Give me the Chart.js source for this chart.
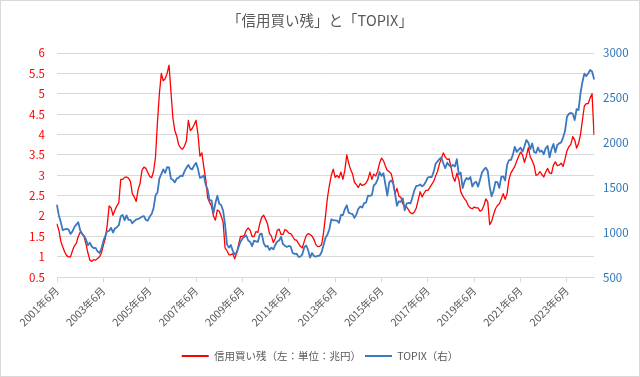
<!DOCTYPE html>
<html><head><meta charset="utf-8">
<script src="https://cdn.jsdelivr.net/npm/chart.js@4.4.1/dist/chart.umd.min.js"></script>
<style>html,body{margin:0;padding:0;background:#fff;overflow:hidden}</style>
</head><body>
<canvas id="c" width="640" height="377"></canvas>
<script>
const startYear = 2001, startMonth = 6;
// 信用買い残（兆円） monthly, 2001/6 - 2024/8
const marginBuying = [
1.80,1.65,1.38,1.24,1.12,1.03,1.00,1.00,1.15,1.27,
1.33,1.50,1.60,1.58,1.50,1.32,1.10,0.92,0.89,0.93,
0.92,0.96,1.00,1.10,1.28,1.45,1.78,2.25,2.20,2.02,
2.15,2.25,2.33,2.90,2.90,2.95,2.96,2.93,2.85,2.55,
2.47,2.36,2.65,2.80,3.12,3.20,3.17,3.07,2.97,2.94,
3.10,3.45,4.30,5.00,5.50,5.32,5.37,5.50,5.70,5.05,
4.40,4.10,3.96,3.75,3.67,3.64,3.72,3.85,4.35,4.10,
4.15,4.24,4.35,4.00,3.47,3.55,3.20,2.90,2.45,2.33,
2.24,2.00,1.90,2.15,2.12,2.00,1.85,1.22,1.15,1.05,
1.05,1.08,0.95,1.10,1.30,1.50,1.50,1.53,1.65,1.71,
1.65,1.50,1.50,1.62,1.60,1.82,1.97,2.02,1.92,1.80,
1.57,1.51,1.35,1.45,1.65,1.68,1.55,1.55,1.67,1.64,
1.58,1.57,1.50,1.42,1.41,1.33,1.26,1.22,1.38,1.52,
1.57,1.55,1.51,1.43,1.30,1.25,1.26,1.30,1.60,2.00,
2.45,2.75,3.00,3.15,2.95,3.00,2.94,3.08,2.90,3.12,
3.50,3.30,3.14,3.03,2.83,2.77,2.70,2.80,2.75,2.77,
2.81,2.90,3.08,2.90,3.03,2.98,3.10,3.30,3.42,3.36,
3.23,3.12,3.09,3.04,2.85,2.55,2.68,2.49,2.46,2.30,
2.25,2.22,2.15,2.08,2.06,2.10,2.20,2.40,2.60,2.47,
2.56,2.63,2.63,2.70,2.78,2.85,2.98,3.10,3.28,3.42,
3.55,3.45,3.39,3.40,3.20,2.96,2.85,3.05,2.90,2.60,
2.50,2.42,2.36,2.25,2.20,2.18,2.22,2.20,2.20,2.12,
2.15,2.26,2.42,2.35,1.79,1.87,2.04,2.18,2.26,2.30,
2.42,2.55,2.41,2.55,2.90,3.06,3.14,3.22,3.35,3.47,
3.57,3.50,3.32,3.47,3.68,3.45,3.36,3.24,3.00,3.02,
3.09,3.02,2.96,3.08,3.17,3.06,3.04,3.25,3.33,3.24,
3.25,3.30,3.22,3.40,3.60,3.70,3.76,3.95,3.87,3.67,
3.78,4.00,4.35,4.70,4.76,4.76,4.90,5.00,4.00
];
// TOPIX monthly, 2001/6 - 2024/8
const topix = [
1300,1187,1112,1023,1035,1040,1032,
983,1011,1060,1087,1113,1024,981,962,921,857,885,843,
825,827,788,771,819,903,961,1015,1018,1051,999,1044,
1058,1080,1179,1194,1136,1190,1140,1140,1102,1126,1143,1150,
1160,1176,1182,1139,1130,1177,1205,1271,1412,1444,1600,1650,
1703,1663,1728,1725,1598,1586,1558,1600,1611,1632,1627,1681,
1721,1752,1714,1703,1746,1775,1706,1608,1617,1635,1531,1476,
1356,1358,1213,1325,1408,1320,1304,1241,1087,867,830,859,
794,756,774,837,897,930,950,965,910,894,847,908,
901,894,979,987,880,841,850,804,830,810,860,899,
910,951,869,851,838,849,841,770,761,764,728,729,
755,835,854,804,719,770,736,731,737,742,781,860,
940,975,1035,1145,1135,1134,1131,1106,1194,1194,1258,1302,
1220,1211,1203,1162,1201,1263,1289,1277,1326,1333,1410,1408,
1415,1523,1543,1592,1673,1630,1659,1537,1411,1558,1580,1547,
1432,1297,1347,1340,1379,1246,1322,1329,1323,1393,1469,1519,
1521,1535,1513,1531,1568,1612,1618,1617,1675,1765,1792,1818,
1836,1768,1716,1777,1747,1731,1753,1735,1817,1646,1667,1494,
1567,1607,1592,1617,1512,1551,1565,1511,1588,1667,1699,1721,
1684,1510,1403,1464,1563,1559,1496,1618,1625,1579,1754,1805,
1808,1864,1954,1898,1922,1944,1901,1960,2030,2001,1928,1992,
1895,1886,1946,1899,1912,1871,1940,1963,1836,1929,1985,1892,
1975,1993,2004,2057,2130,2289,2322,2332,2323,2253,2374,2366,
2551,2675,2769,2743,2772,2810,2794,2712
];
const categories = [];
for (let i = 0; i < marginBuying.length; i++) {
  const t = startMonth - 1 + i;
  categories.push((startYear + Math.floor(t / 12)) + '年' + (t % 12 + 1) + '月');
}
const labelEvery = 24;
const leftAxis = {min: 0.5, max: 6, step: 0.5};
const rightAxis = {min: 500, max: 3000, step: 500};

const FONT = "'Noto Sans CJK JP','Noto Sans',sans-serif";
const RED = '#FF0000', BLUE = '#3B78BF', GREY = '#595959', GRID = '#D9D9D9';

const frame = {
  id: 'frame',
  afterDraw(chart) {
    const ctx = chart.ctx;
    ctx.save();
    ctx.strokeStyle = GRID; ctx.lineWidth = 1;
    ctx.strokeRect(0.5, 0.5, chart.width - 1, chart.height - 1);
    ctx.restore();
  }
};

new Chart(document.getElementById('c'), {
  type: 'line',
  data: {
    labels: categories,
    datasets: [
      {label: '信用買い残（左：単位：兆円）', data: marginBuying, yAxisID: 'y', borderColor: RED, backgroundColor: RED,
       borderWidth: 1.3, pointRadius: 0, tension: 0, order: 2, borderJoinStyle: 'round', borderCapStyle: 'round'},
      {label: 'TOPIX（右）', data: topix, yAxisID: 'y1', borderColor: BLUE, backgroundColor: BLUE,
       borderWidth: 1.8, pointRadius: 0, tension: 0, order: 1, borderJoinStyle: 'round', borderCapStyle: 'round'}
    ]
  },
  options: {
    responsive: false, animation: false, devicePixelRatio: 1,
    layout: {padding: {left: 0, right: 0, top: 0, bottom: 5.75}},
    plugins: {
      title: {display: true, text: '「信用買い残」と「TOPIX」', color: GREY,
        font: {family: FONT, size: 14.5, weight: 'normal'}, padding: {top: 12, bottom: 23.6}},
      legend: {position: 'bottom',
        labels: {boxWidth: 27, boxHeight: 2, padding: 4, color: GREY,
          font: {family: FONT, size: 10.5},
          sort: (a, b) => a.datasetIndex - b.datasetIndex,
          generateLabels(chart) {
            const items = Chart.defaults.plugins.legend.labels.generateLabels(chart);
            items.forEach(it => { it.lineWidth = 0; it.fillStyle = it.strokeStyle; });
            return items;
          }}},
      tooltip: {enabled: false}
    },
    scales: {
      x: {type: 'category', offset: false,
        grid: {display: true, drawOnChartArea: false, drawTicks: true, tickLength: 5, color: GRID},
        border: {display: true, color: GRID},
        ticks: {autoSkip: false, minRotation: 45, maxRotation: 45, color: GREY, padding: 2,
          font: {family: FONT, size: 10.5},
          callback: (v, i) => (i % labelEvery === 0 ? categories[i] : null)},
        afterFit: s => { s.height = 69.5; }
      },
      y: {position: 'left', min: leftAxis.min, max: leftAxis.max,
        ticks: {stepSize: leftAxis.step, color: RED, padding: 12, font: {family: FONT, size: 11.5},
          callback: v => String(Math.round(v * 10) / 10)},
        grid: {color: GRID, drawTicks: false}, border: {display: false},
        afterFit: s => { s.width = 57; }
      },
      y1: {position: 'right', min: rightAxis.min, max: rightAxis.max,
        ticks: {stepSize: rightAxis.step, color: '#2E75B6', padding: 9, font: {family: FONT, size: 11.5},
          callback: v => String(v)},
        grid: {drawOnChartArea: false, drawTicks: false}, border: {display: false},
        afterFit: s => { s.width = 46; }
      }
    }
  },
  plugins: [frame]
});
</script>
</body></html>
